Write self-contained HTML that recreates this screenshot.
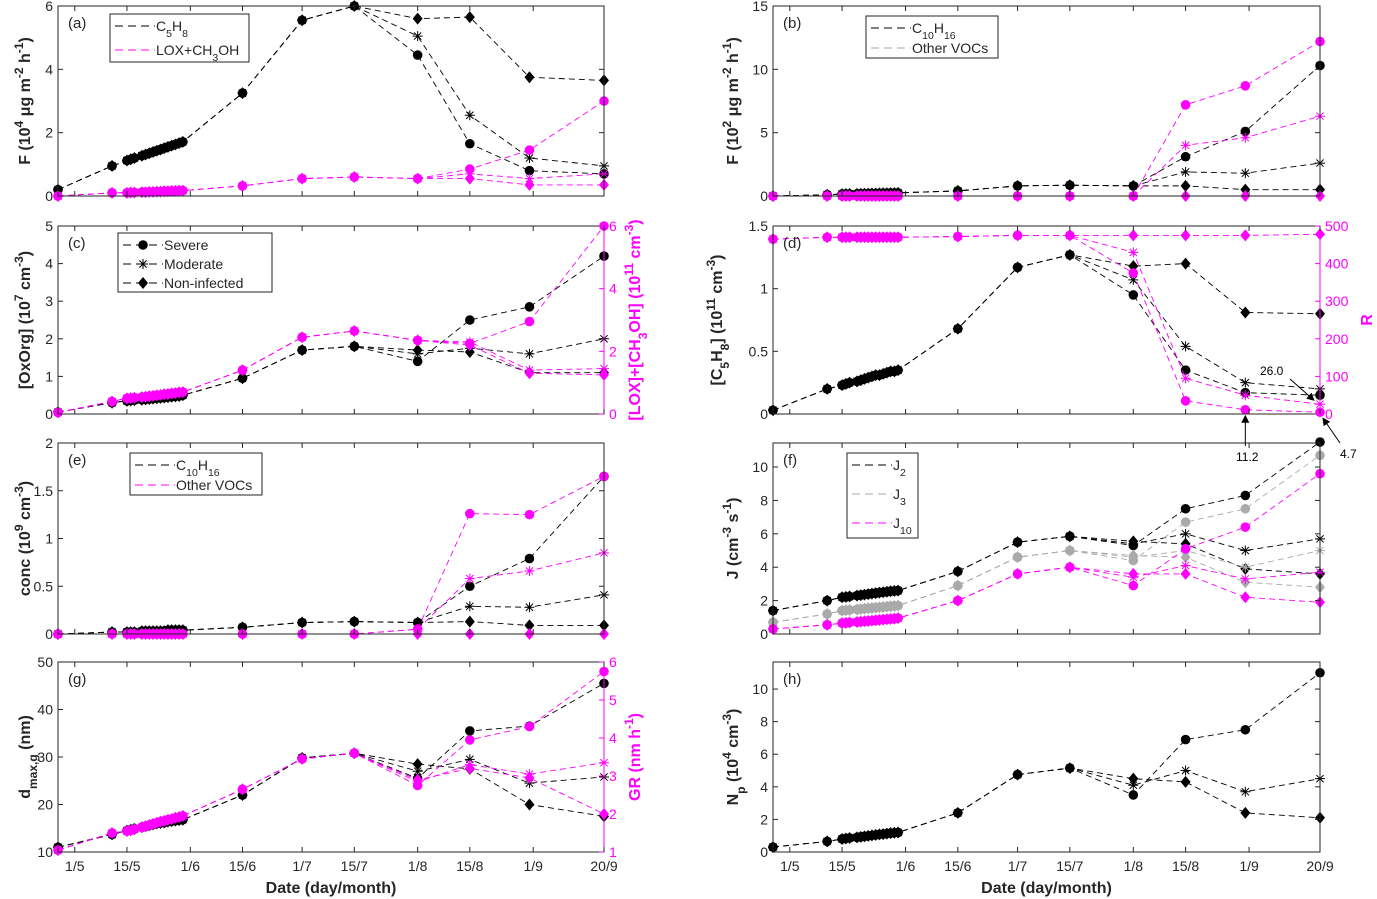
<!DOCTYPE html>
<html><head><meta charset="utf-8">
<style>
html,body{margin:0;padding:0;background:#fff;}
svg{display:block;font-family:"Liberation Sans",sans-serif;}
</style></head>
<body>
<svg id="fig" width="1377" height="899" viewBox="0 0 1377 899" xmlns="http://www.w3.org/2000/svg"></svg>
<script>
// ---- data ----
const earlyDays = [-4.5,10,14,15,16,18,19,20,21,22,23,24,25,26,27,28,29,45,61,75];
const lateDays = [92,106,122,142];
const xTickLabels = ['1/5','15/5','1/6','15/6','1/7','15/7','1/8','15/8','1/9','20/9'];
const xTickDays = [0,14,31,45,61,75,92,106,123,142];

const aC5H8Early = [0.2,0.95,1.12,1.16,1.2,1.27,1.31,1.35,1.39,1.43,1.47,1.51,1.55,1.59,1.63,1.67,1.71,3.25,5.55,6.0];
const aC5H8Sev = [4.45,1.65,0.8,0.7];
const aC5H8Mod = [5.05,2.55,1.2,0.95];
const aC5H8Non = [5.6,5.65,3.75,3.65];
const aLoxEarly = [0.0,0.1,0.1,0.11,0.11,0.12,0.12,0.13,0.13,0.14,0.14,0.15,0.15,0.16,0.16,0.17,0.17,0.32,0.55,0.6];
const aLoxSev = [0.55,0.85,1.45,3.0];
const aLoxMod = [0.55,0.7,0.55,0.7];
const aLoxNon = [0.55,0.55,0.35,0.35];

const bC10Early = [0.0,0.1,0.15,0.16,0.16,0.17,0.18,0.18,0.19,0.2,0.2,0.21,0.22,0.22,0.23,0.24,0.25,0.4,0.8,0.85];
const bC10Sev = [0.8,3.1,5.1,10.3];
const bC10Mod = [0.8,1.9,1.8,2.6];
const bC10Non = [0.8,0.8,0.5,0.5];
const bOthEarly = [0,0,0,0,0,0,0,0,0,0,0,0,0,0,0,0,0,0,0,0];
const bOthSev = [0,7.2,8.7,12.2];
const bOthMod = [0,4.0,4.6,6.3];
const bOthNon = [0,0,0,0];

const cOxEarly = [0.05,0.3,0.35,0.36,0.37,0.38,0.39,0.4,0.41,0.42,0.43,0.44,0.45,0.46,0.47,0.48,0.5,0.95,1.7,1.8];
const cOxSev = [1.4,2.5,2.85,4.2];
const cOxMod = [1.6,1.75,1.6,2.0];
const cOxNon = [1.7,1.65,1.1,1.1];
const cLoxEarly = [0.05,0.4,0.5,0.51,0.52,0.54,0.55,0.57,0.58,0.6,0.61,0.63,0.64,0.66,0.67,0.69,0.7,1.4,2.45,2.65];
const cLoxSev = [2.35,2.25,2.95,6.0];
const cLoxMod = [2.35,2.3,1.4,1.45];
const cLoxNon = [2.35,2.2,1.3,1.25];

const dC5Early = [0.03,0.2,0.23,0.24,0.25,0.26,0.27,0.28,0.29,0.3,0.31,0.31,0.32,0.33,0.34,0.34,0.35,0.68,1.17,1.27];
const dC5Sev = [0.95,0.35,0.17,0.15];
const dC5Mod = [1.07,0.54,0.25,0.2];
const dC5Non = [1.18,1.2,0.81,0.8];
const dREarly = [465,470,470,470,470,470,470,470,470,470,470,470,470,470,470,470,470,472,475,475];
const dRSev = [375,35,11.2,4.7];
const dRMod = [430,95,50,26.0];
const dRNon = [475,475,475,478];

const eC10Early = [0.0,0.02,0.02,0.02,0.02,0.03,0.03,0.03,0.03,0.03,0.03,0.03,0.04,0.04,0.04,0.04,0.04,0.07,0.12,0.13];
const eC10Sev = [0.12,0.5,0.79,1.65];
const eC10Mod = [0.12,0.29,0.28,0.41];
const eC10Non = [0.12,0.13,0.09,0.09];
const eOthEarly = [0,0,0,0,0,0,0,0,0,0,0,0,0,0,0,0,0,0,0,0];
const eOthSev = [0.05,1.26,1.25,1.65];
const eOthMod = [0.05,0.58,0.66,0.85];
const eOthNon = [0,0,0,0];

const fJ2Early = [1.4,2.0,2.2,2.22,2.25,2.3,2.33,2.36,2.39,2.42,2.45,2.48,2.5,2.53,2.56,2.58,2.6,3.75,5.5,5.85];
const fJ2Sev = [5.3,7.5,8.3,11.5];
const fJ2Mod = [5.4,6.0,5.0,5.7];
const fJ2Non = [5.55,5.4,3.9,3.6];
const fJ3Early = [0.7,1.2,1.4,1.42,1.44,1.47,1.49,1.52,1.54,1.56,1.58,1.6,1.62,1.64,1.66,1.68,1.7,2.9,4.6,5.0];
const fJ3Sev = [4.4,6.7,7.5,10.7];
const fJ3Mod = [4.6,5.0,4.0,5.0];
const fJ3Non = [4.7,4.6,3.1,2.8];
const fJ10Early = [0.3,0.55,0.65,0.67,0.69,0.72,0.74,0.76,0.78,0.8,0.82,0.84,0.86,0.88,0.9,0.92,0.95,2.0,3.6,4.0];
const fJ10Sev = [2.9,5.1,6.4,9.6];
const fJ10Mod = [3.4,4.1,3.3,3.7];
const fJ10Non = [3.6,3.6,2.2,1.9];

const gDEarly = [11,13.7,14.5,14.7,14.9,15.2,15.4,15.6,15.8,16.0,16.1,16.2,16.4,16.5,16.6,16.7,16.8,22,29.8,30.8];
const gDSev = [25.5,35.5,36.5,45.5];
const gDMod = [27,29.5,24.5,25.8];
const gDNon = [28.5,27.5,20,17.5];
const gGREarly = [1.05,1.5,1.55,1.57,1.6,1.65,1.68,1.71,1.74,1.77,1.8,1.82,1.85,1.87,1.9,1.92,1.95,2.65,3.45,3.6];
const gGRSev = [2.75,3.95,4.3,5.75];
const gGRMod = [2.85,3.3,3.05,3.35];
const gGRNon = [2.9,3.2,2.95,2.0];

const hNpEarly = [0.3,0.65,0.8,0.83,0.86,0.9,0.93,0.96,0.99,1.02,1.05,1.08,1.1,1.13,1.16,1.18,1.2,2.4,4.75,5.15];
const hNpSev = [3.5,6.9,7.5,11];
const hNpMod = [4.1,5.0,3.7,4.5];
const hNpNon = [4.5,4.3,2.4,2.1];

// ---- drawing ----
const NS='http://www.w3.org/2000/svg';
const svg=document.getElementById('fig');
function mk(tag,attrs,parent){const e=document.createElementNS(NS,tag);for(const k in attrs)e.setAttribute(k,attrs[k]);(parent||svg).appendChild(e);return e;}
const BLACK='#000',MAG='#ff00ff',GRAY='#aaaaaa',TXT='#262626';
const days=earlyDays.concat(lateDays);

function richText(parts,attrs,parent){
  const t=mk('text',attrs,parent);
  parts.forEach(p=>{
    const s=document.createElementNS(NS,'tspan');
    s.textContent=p[0];
    if(p[1]==='sup'){s.setAttribute('baseline-shift','super');s.setAttribute('font-size','0.75em');}
    if(p[1]==='sub'){s.setAttribute('baseline-shift','sub');s.setAttribute('font-size','0.75em');}
    t.appendChild(s);
  });
  return t;
}

function marker(g,type,x,y,color){
  let m;
  if(type==='circle'){m=mk('circle',{cx:x,cy:y,r:4.8,fill:color},g);}
  else if(type==='diamond'){m=mk('polygon',{points:`${x},${y-6} ${x+5},${y} ${x},${y+6} ${x-5},${y}`,fill:color},g);}
  else {
    const d=`M${x-5},${y}H${x+5}M${x},${y-5}V${y+5}M${x-3.6},${y-3.6}L${x+3.6},${y+3.6}M${x-3.6},${y+3.6}L${x+3.6},${y-3.6}`;
    m=mk('path',{d:d,stroke:color,'stroke-width':1,fill:'none'},g);
  }
  
  
}

function panel(p){
  const g=mk('g',{});
  
  
  const xs=d=>p.x0+(d+4.5)*(p.x1-p.x0)/146.5;
  const ys=v=>p.y1-(v-p.ymin)*(p.y1-p.y0)/(p.ymax-p.ymin);
  const ysR=p.right?(v=>p.y1-(v-p.right.min)*(p.y1-p.y0)/(p.right.max-p.right.min)):null;
  // series
  p.series.forEach(s=>{
    const sy=s.right?ysR:ys;
    const pts=s.values.map((v,i)=>[xs(days[i]),sy(v)]);
    const line=mk('polyline',{points:pts.map(q=>q.join(',')).join(' '),fill:'none',stroke:s.color,'stroke-width':0.9,'stroke-dasharray':'6,4'},g);
    
    
    pts.forEach(q=>marker(g,s.marker,q[0],q[1],s.color));
  });
  // box
  const box=mk('rect',{x:p.x0,y:p.y0,width:p.x1-p.x0,height:p.y1-p.y0,fill:'none',stroke:TXT,'stroke-width':1},g);
  
  
  // y ticks
  p.yticks.forEach(v=>{
    const y=ys(v);
    mk('line',{x1:p.x0,x2:p.x0+5,y1:y,y2:y,stroke:TXT},g);
    if(!p.right) mk('line',{x1:p.x1,x2:p.x1-5,y1:y,y2:y,stroke:TXT},g);
    const t=mk('text',{x:p.x0-5,y:y+5,'text-anchor':'end','font-size':14,fill:TXT},g);
    t.textContent=String(v);
    
    
  });
  if(p.right){
    p.right.ticks.forEach(v=>{
      const y=ysR(v);
      mk('line',{x1:p.x1,x2:p.x1-5,y1:y,y2:y,stroke:MAG},g);
      const t=mk('text',{x:p.x1+5,y:y+5,'font-size':14,fill:MAG},g);
      t.textContent=String(v);
      
      
    });
    mk('line',{x1:p.x1,x2:p.x1,y1:p.y0,y2:p.y1,stroke:MAG},g);
  }
  // x ticks
  xTickDays.forEach((d,i)=>{
    const x=xs(d);
    mk('line',{x1:x,x2:x,y1:p.y1,y2:p.y1-5,stroke:TXT},g);
    mk('line',{x1:x,x2:x,y1:p.y0,y2:p.y0+5,stroke:TXT},g);
    if(p.xlabels){
      const t=mk('text',{x:x,y:p.y1+19,'text-anchor':'middle','font-size':14,fill:TXT},g);
      t.textContent=xTickLabels[i];
      
      
    }
  });
  if(p.xlabels){
    const t=mk('text',{x:(p.x0+p.x1)/2,y:p.y1+41,'text-anchor':'middle','font-size':16,'font-weight':'bold',fill:TXT},g);
    t.textContent='Date (day/month)';
    
    
  }
  // panel letter
  const pl=mk('text',{x:p.x0+10,y:p.y0+22,'font-size':15,fill:TXT},g);
  pl.textContent='('+p.id+')';
  
  
  // y title
  const cy=(p.y0+p.y1)/2;
  const yt=richText(p.ytitle,{x:0,y:0,'text-anchor':'middle','font-size':16,'font-weight':'bold',fill:TXT,transform:`translate(${p.ytx},${cy}) rotate(-90)`},g);
  
  
  if(p.rtitle){
    const rt=richText(p.rtitle,{x:0,y:0,'text-anchor':'middle','font-size':16,'font-weight':'bold',fill:MAG,transform:`translate(${p.rtx},${cy}) rotate(-90)`},g);
    
    
  }
  // legend
  if(p.legend){
    const L=p.legend;
    const lg=mk('g',{},g);
    
    
    mk('rect',{x:L.x,y:L.y,width:L.w,height:L.h,fill:'#fff',stroke:TXT},lg);
    L.items.forEach((it,i)=>{
      const y=L.y+12+i*L.dy;
      const e=mk('g',{},lg);
      
      
      mk('line',{x1:L.x+5,x2:L.x+45,y1:y,y2:y,stroke:it.color,'stroke-dasharray':'8,5','stroke-width':1},e);
      if(it.marker) marker(e,it.marker,L.x+25,y,'#000');
      richText(it.text,{x:L.x+46,y:y+5,'font-size':14,fill:TXT},e);
    });
  }
  return {g,xs,ys,ysR};
}

function sc(early,sev,mod,non){return [early.concat(sev),early.concat(mod),early.concat(non)];}
function mkSeries(name,color,arrs,right){
  const mks=['circle','asterisk','diamond'];const nm=['severe','moderate','non-infected'];
  return arrs.map((v,i)=>({name:name+'-'+nm[i],color:color,marker:mks[i],values:v,right:!!right}));
}
const L0=58,L1=604,R0=773,R1=1320;
const rows=[[6,196],[226,414],[443,634],[662,852]];

panel({id:'a',x0:L0,x1:L1,y0:rows[0][0],y1:rows[0][1],ymin:0,ymax:6,yticks:[0,2,4,6],ytx:30,
  ytitle:[['F (10'],['4','sup'],[' μg m'],['-2','sup'],[' h'],['-1','sup'],[')']],
  series:mkSeries('c5h8',BLACK,sc(aC5H8Early,aC5H8Sev,aC5H8Mod,aC5H8Non)).concat(mkSeries('lox',MAG,sc(aLoxEarly,aLoxSev,aLoxMod,aLoxNon))),
  legend:{x:110,y:14,w:139,h:48,dy:24,items:[{color:BLACK,text:[['C'],['5','sub'],['H'],['8','sub']]},{color:MAG,text:[['LOX+CH'],['3','sub'],['OH']]}]}});
panel({id:'b',x0:R0,x1:R1,y0:rows[0][0],y1:rows[0][1],ymin:0,ymax:15,yticks:[0,5,10,15],ytx:738,
  ytitle:[['F (10'],['2','sup'],[' μg m'],['-2','sup'],[' h'],['-1','sup'],[')']],
  series:mkSeries('c10h16',BLACK,sc(bC10Early,bC10Sev,bC10Mod,bC10Non)).concat(mkSeries('other-vocs',MAG,sc(bOthEarly,bOthSev,bOthMod,bOthNon))),
  legend:{x:866,y:16,w:132,h:42,dy:20,items:[{color:BLACK,text:[['C'],['10','sub'],['H'],['16','sub']]},{color:GRAY,text:[['Other VOCs']]}]}});
panel({id:'c',x0:L0,x1:L1,y0:rows[1][0],y1:rows[1][1],ymin:0,ymax:5,yticks:[0,1,2,3,4,5],ytx:30,
  ytitle:[['[OxOrg] (10'],['7','sup'],[' cm'],['-3','sup'],[')']],
  right:{min:0,max:6,ticks:[0,2,4,6]},rtx:640,rtitle:[['[LOX]+[CH'],['3','sub'],['OH] (10'],['11','sup'],[' cm'],['-3','sup'],[')']],
  series:mkSeries('oxorg',BLACK,sc(cOxEarly,cOxSev,cOxMod,cOxNon)).concat(mkSeries('lox-conc',MAG,sc(cLoxEarly,cLoxSev,cLoxMod,cLoxNon),true)),
  legend:{x:118,y:233,w:154,h:59,dy:19,items:[{color:BLACK,marker:'circle',text:[['Severe']]},{color:BLACK,marker:'asterisk',text:[['Moderate']]},{color:BLACK,marker:'diamond',text:[['Non-infected']]}]}});
const pd=panel({id:'d',x0:R0,x1:R1,y0:rows[1][0],y1:rows[1][1],ymin:0,ymax:1.5,yticks:[0,0.5,1,1.5],ytx:722,
  ytitle:[['[C'],['5','sub'],['H'],['8','sub'],['] (10'],['11','sup'],[' cm'],['-3','sup'],[')']],
  right:{min:0,max:500,ticks:[0,100,200,300,400,500]},rtx:1372,rtitle:[['R']],
  series:mkSeries('c5h8-conc',BLACK,sc(dC5Early,dC5Sev,dC5Mod,dC5Non)).concat(mkSeries('ratio-r',MAG,sc(dREarly,dRSev,dRMod,dRNon),true))});
panel({id:'e',x0:L0,x1:L1,y0:rows[2][0],y1:rows[2][1],ymin:0,ymax:2,yticks:[0,0.5,1,1.5,2],ytx:30,
  ytitle:[['conc (10'],['9','sup'],[' cm'],['-3','sup'],[')']],
  series:mkSeries('c10h16-conc',BLACK,sc(eC10Early,eC10Sev,eC10Mod,eC10Non)).concat(mkSeries('other-vocs-conc',MAG,sc(eOthEarly,eOthSev,eOthMod,eOthNon))),
  legend:{x:130,y:453,w:132,h:42,dy:20,items:[{color:BLACK,text:[['C'],['10','sub'],['H'],['16','sub']]},{color:MAG,text:[['Other VOCs']]}]}});
panel({id:'f',x0:R0,x1:R1,y0:rows[2][0],y1:rows[2][1],ymin:0,ymax:11.44,yticks:[0,2,4,6,8,10],ytx:738,
  ytitle:[['J (cm'],['-3','sup'],[' s'],['-1','sup'],[')']],
  series:mkSeries('j2',BLACK,sc(fJ2Early,fJ2Sev,fJ2Mod,fJ2Non)).concat(mkSeries('j3',GRAY,sc(fJ3Early,fJ3Sev,fJ3Mod,fJ3Non))).concat(mkSeries('j10',MAG,sc(fJ10Early,fJ10Sev,fJ10Mod,fJ10Non))),
  legend:{x:847,y:453,w:71,h:85,dy:29,items:[{color:BLACK,text:[['J'],['2','sub']]},{color:GRAY,text:[['J'],['3','sub']]},{color:MAG,text:[['J'],['10','sub']]}]}});
panel({id:'g',x0:L0,x1:L1,y0:rows[3][0],y1:rows[3][1],ymin:10,ymax:50,yticks:[10,20,30,40,50],ytx:30,
  ytitle:[['d'],['max,g','sub'],[' (nm)']],
  right:{min:1,max:6,ticks:[1,2,3,4,5,6]},rtx:640,rtitle:[['GR (nm h'],['-1','sup'],[')']],
  xlabels:true,
  series:mkSeries('dmax',BLACK,sc(gDEarly,gDSev,gDMod,gDNon)).concat(mkSeries('growth-rate',MAG,sc(gGREarly,gGRSev,gGRMod,gGRNon),true))});
panel({id:'h',x0:R0,x1:R1,y0:rows[3][0],y1:rows[3][1],ymin:0,ymax:11.66,yticks:[0,2,4,6,8,10],ytx:738,
  ytitle:[['N'],['p','sub'],[' (10'],['4','sup'],[' cm'],['-3','sup'],[')']],
  xlabels:true,
  series:mkSeries('np',BLACK,sc(hNpEarly,hNpSev,hNpMod,hNpNon))});

// annotations in panel d
const ann=mk('g',{});


mk('defs',{},ann).innerHTML='<marker id="ah" markerWidth="8" markerHeight="8" refX="7" refY="4" orient="auto"><path d="M0,0L8,4L0,8z" fill="#000"/></marker>';
function arrow(x1,y1,x2,y2){mk('line',{x1,y1,x2,y2,stroke:'#000','stroke-width':1,'marker-end':'url(#ah)'},ann);}
const x142=pd.xs(142), x122=pd.xs(122);
arrow(1290,379,x142-6,pd.ysR(dRMod[3])-4);
arrow(x122,446,x122,pd.ysR(dRSev[2])+6);
arrow(1340,443,x142+3,pd.ysR(dRSev[3])+6);
[['26.0',1260,375],['11.2',1236,461],['4.7',1340,458]].forEach(a=>{const t=mk('text',{x:a[1],y:a[2],'font-size':12,fill:'#000'},ann);t.textContent=a[0];});
</script>
</body></html>
